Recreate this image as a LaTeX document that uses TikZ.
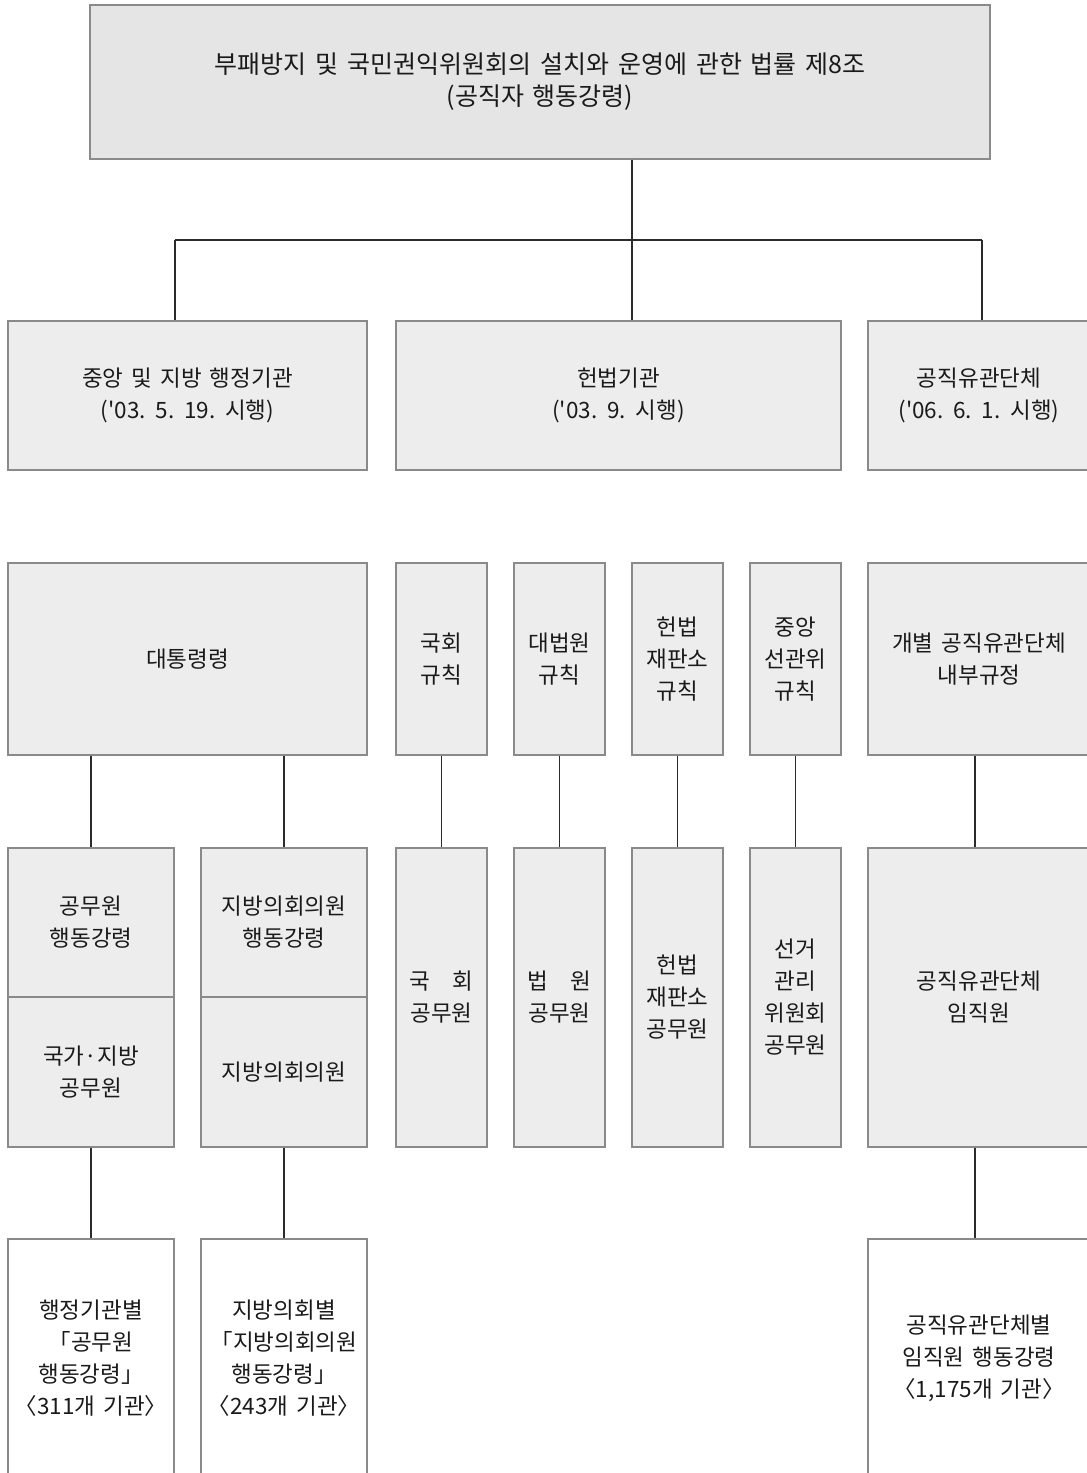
\documentclass[tikz,border=0pt]{standalone}
\usepackage{fontspec}
\newfontfamily\kr[WordSpace=1.6]{Noto Sans CJK KR}
\definecolor{topc}{HTML}{E5E5E5}
\definecolor{boxc}{HTML}{EDEDED}
\definecolor{bordc}{HTML}{8A8A8A}
\definecolor{linec}{HTML}{2B2B2B}
\definecolor{txtc}{HTML}{1A1A1A}
\begin{document}
\begin{tikzpicture}[x=1pt,y=-1pt,
  box/.style={draw=bordc, line width=1.4pt, fill=boxc, inner sep=0pt, align=center,
    font=\kr\fontsize{22.5}{32}\selectfont, text=txtc},
  whitebox/.style={box, fill=white},
  topbox/.style={box, fill=topc, font=\kr\fontsize{25}{32}\selectfont},
  conn/.style={draw=linec, line width=1.3pt}]
\path[use as bounding box] (0,0) rectangle (1087,1473);
\clip (0,0) rectangle (1087,1473);
\fill[white] (0,0) rectangle (1087,1473);

% top
\node[topbox, minimum width=900pt, minimum height=154pt] (top) at (540,82)
  {부패방지 및 국민권익위원회의 설치와 운영에 관한 법률 제8조\\(공직자 행동강령)};

% row 2
\node[box, minimum width=359pt, minimum height=149pt] (adm) at (187.5,395.5)
  {중앙 및 지방 행정기관\\('03. 5. 19. 시행)};
\node[box, minimum width=445pt, minimum height=149pt] (con) at (618.5,395.5)
  {헌법기관\\('03. 9. 시행)};
\node[box, minimum width=222pt, minimum height=149pt] (pub) at (979,395.5)
  {공직유관단체\\('06. 6. 1. 시행)};

% row 3
\node[box, minimum width=359pt, minimum height=192pt] (pres) at (187.5,659) {대통령령};
\node[box, minimum width=91pt, minimum height=192pt] (na) at (441.5,659) {국회\\규칙};
\node[box, minimum width=91pt, minimum height=192pt] (sc) at (559.5,659) {대법원\\규칙};
\node[box, minimum width=91pt, minimum height=192pt] (cc) at (677.5,659) {헌법\\재판소\\규칙};
\node[box, minimum width=91pt, minimum height=192pt] (ec) at (795.5,659) {중앙\\선관위\\규칙};
\node[box, minimum width=222pt, minimum height=192pt] (int) at (979,659) {개별 공직유관단체\\내부규정};

% row 4
\node[box, minimum width=166pt, minimum height=149pt] (gwa) at (91,922.5) {공무원\\행동강령};
\node[box, minimum width=166pt, minimum height=150pt] (gwb) at (91,1072) {국가·지방\\공무원};
\node[box, minimum width=166pt, minimum height=149pt] (lca) at (284,922.5) {지방의회의원\\행동강령};
\node[box, minimum width=166pt, minimum height=150pt] (lcb) at (284,1072) {지방의회의원};
\node[box, minimum width=91pt, minimum height=299pt] (naw) at (441.5,997.5) {국\hspace{1em}회\\공무원};
\node[box, minimum width=91pt, minimum height=299pt] (scw) at (559.5,997.5) {법\hspace{1em}원\\공무원};
\node[box, minimum width=91pt, minimum height=299pt] (ccw) at (677.5,997.5) {헌법\\재판소\\공무원};
\node[box, minimum width=91pt, minimum height=299pt] (ecw) at (795.5,997.5) {선거\\관리\\위원회\\공무원};
\node[box, minimum width=222pt, minimum height=299pt] (pubw) at (979,997.5) {공직유관단체\\임직원};

% row 5
\node[whitebox, minimum width=166pt, minimum height=238pt] (gwc) at (91,1358)
  {행정기관별\\「공무원\\행동강령」\\〈311개 기관〉};
\node[whitebox, minimum width=166pt, minimum height=238pt] (lcc) at (284,1358)
  {지방의회별\\「지방의회의원\\행동강령」\\〈243개 기관〉};
\node[whitebox, minimum width=222pt, minimum height=238pt] (pubc) at (979,1358)
  {공직유관단체별\\임직원 행동강령\\〈1,175개 기관〉};

% connectors
\coordinate (j) at (632,240);
\coordinate (bl) at (175,240);
\coordinate (br) at (982,240);
\draw[conn] (top.south -| j) -- (con.north -| j);
\draw[conn] (bl) -- (br);
\draw[conn] (bl) -- (adm.north -| bl);
\draw[conn] (br) -- (pub.north -| br);

\draw[conn] (gwa.north |- pres.south) -- (gwa.north);
\draw[conn] (lca.north |- pres.south) -- (lca.north);
\draw[conn] (na.south) -- (naw.north);
\draw[conn] (sc.south) -- (scw.north);
\draw[conn] (cc.south) -- (ccw.north);
\draw[conn] (ec.south) -- (ecw.north);
\coordinate (rc) at (975,0);
\draw[conn] (int.south -| rc) -- (pubw.north -| rc);

\draw[conn] (gwb.south) -- (gwc.north);
\draw[conn] (lcb.south) -- (lcc.north);
\draw[conn] (pubw.south -| rc) -- (pubc.north -| rc);
\end{tikzpicture}
\end{document}
